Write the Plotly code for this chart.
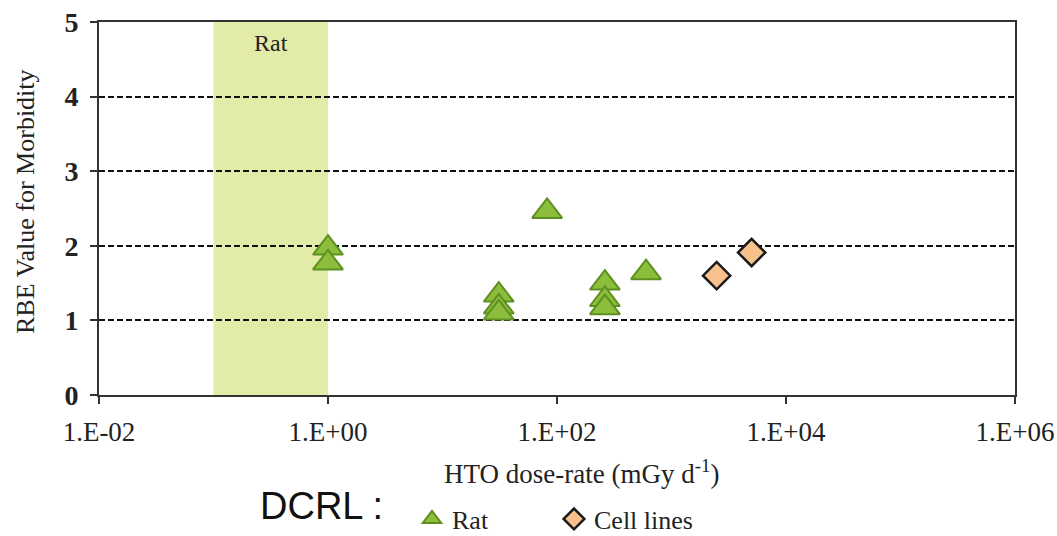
import plotly.graph_objects as go

# Data
rat_dose = [1.0, 1.0, 82, 31, 31, 31, 262, 262, 262, 599]
rat_rbe = [1.97, 1.77, 2.46, 1.34, 1.18, 1.10, 1.50, 1.28, 1.17, 1.64]
cell_dose = [2480, 5010]
cell_rbe = [1.60, 1.91]
band_range = [0.1, 1.0]
x_tickvals = [1e-2, 1e0, 1e2, 1e4, 1e6]
x_ticktext = ["1.E-02", "1.E+00", "1.E+02", "1.E+04", "1.E+06"]
y_tickvals = [0, 1, 2, 3, 4, 5]

SERIF = "Liberation Serif"
L, R, T, B, W, H = 99, 42, 22, 141, 1057, 536
pw, ph = W - L - R, H - T - B


def px(xp):
    return (xp - L) / pw


def py(yp):
    return (H - B - yp) / ph


fig = go.Figure()
fig.add_trace(go.Scatter(
    x=rat_dose, y=rat_rbe, mode="markers", name="Rat",
    marker=dict(symbol="triangle-up", size=26, color="#8CBE3C",
                line=dict(color="#5E8F22", width=2)),
))
fig.add_trace(go.Scatter(
    x=cell_dose, y=cell_rbe, mode="markers", name="Cell lines",
    marker=dict(symbol="diamond", size=21, color="#F8C18C",
                line=dict(color="#1a1a1a", width=2.5)),
))

fig.add_shape(type="rect", xref="x", yref="y", x0=band_range[0], x1=band_range[1],
              y0=0, y1=5, fillcolor="#E2EBA8", line=dict(width=0), layer="below")
fig.add_annotation(x=-0.5, y=4.72, xref="x", yref="y", text="Rat", showarrow=False,
                   font=dict(family=SERIF, size=24, color="#222"))
fig.add_annotation(x=px(258), y=py(506), xref="paper", yref="paper", text="DCRL :",
                   showarrow=False, xanchor="left", yanchor="middle",
                   font=dict(family="Liberation Sans", size=38, color="#111"))
# axis titles
fig.add_annotation(x=px(581), y=py(472), xref="paper", yref="paper",
                   text="HTO dose-rate (mGy d<sup>-1</sup>)", showarrow=False,
                   xanchor="center", yanchor="middle",
                   font=dict(family=SERIF, size=27, color="#222"))
fig.add_annotation(x=px(25), y=py(202), xref="paper", yref="paper",
                   text="RBE Value for Morbidity", showarrow=False, textangle=-90,
                   xanchor="center", yanchor="middle",
                   font=dict(family=SERIF, size=26, color="#222"))

fig.update_xaxes(
    type="log", range=[-2, 6], tickvals=x_tickvals, ticktext=x_ticktext,
    showgrid=False, zeroline=False, showline=True, mirror=True,
    linecolor="#333", linewidth=2, ticks="outside", ticklen=7, tickwidth=2,
    tickcolor="#333", ticklabelstandoff=5,
    tickfont=dict(family=SERIF, size=27, color="#222"),
    automargin=False,
)
fig.update_yaxes(
    range=[0, 5], tickvals=y_tickvals, showgrid=True, gridcolor="#111",
    gridwidth=2, griddash="6px,3px", zeroline=False, showline=True, mirror=True,
    linecolor="#333", linewidth=2, ticks="outside", ticklen=7, tickwidth=2,
    tickcolor="#333", ticklabelstandoff=6,
    tickfont=dict(family=SERIF, size=28, color="#222", weight="bold"),
    automargin=False,
)

fig.update_layout(
    width=W, height=H,
    margin=dict(l=L, r=R, t=T, b=B, autoexpand=False),
    paper_bgcolor="white", plot_bgcolor="white",
    showlegend=True,
    legend=dict(
        orientation="h", x=px(412), y=py(519),
        xanchor="left", yanchor="middle",
        font=dict(family=SERIF, size=26, color="#222"),
        itemwidth=30, entrywidth=97, entrywidthmode="pixels",
        bgcolor="rgba(0,0,0,0)",
    ),
)

fig.write_html("out.html")
